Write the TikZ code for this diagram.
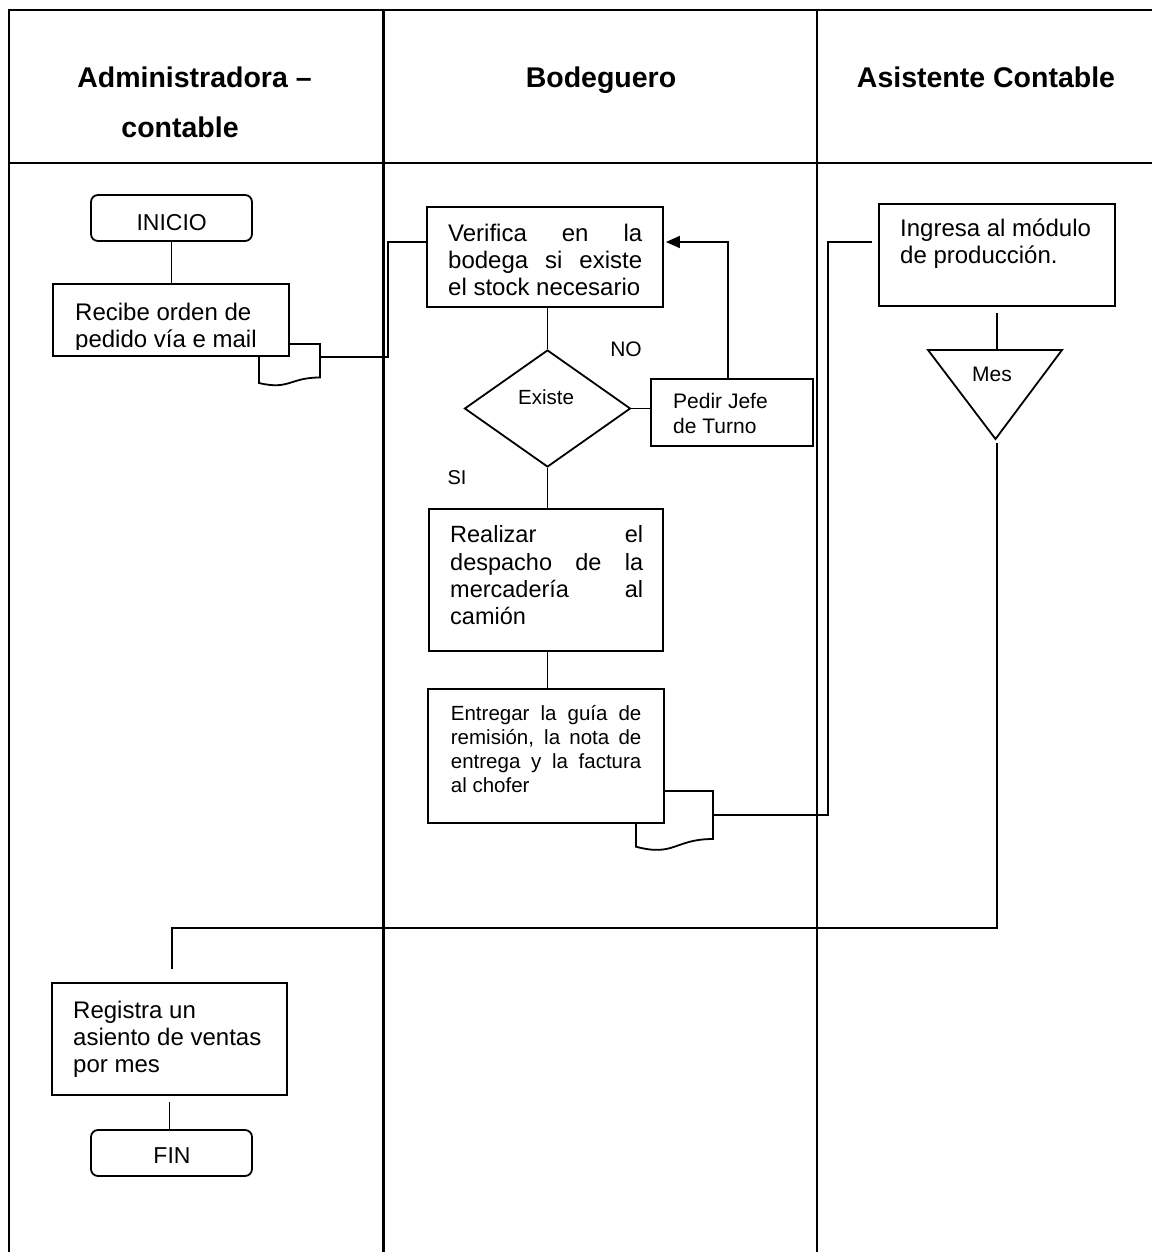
\documentclass[tikz,border=0pt]{standalone}
\usepackage{fontspec}
\setmainfont{Liberation Sans}
\usetikzlibrary{arrows.meta,shapes.geometric,calc}

% one line of a justified paragraph, stretched to the given width
\newcommand\spreadline[2]{\makebox[#1][s]{#2}}

\begin{document}
\begin{tikzpicture}[x=1pt,y=-1pt,
  frame/.style={line width=2.1pt},
  link/.style={line width=1.7pt},
  box/.style={draw,fill=white,line width=1.8pt,rectangle,inner sep=0pt},
  term/.style={box,rounded corners=7pt},
  txt/.style={inner sep=0pt,anchor=base west},
  ctxt/.style={inner sep=0pt,anchor=base},
  hdr/.style={inner sep=0pt,anchor=base,font=\fontsize{28.5}{32}\selectfont\bfseries},
  big/.style={font=\fontsize{24}{27}\selectfont},
  mid/.style={font=\fontsize{23.5}{27.4}\selectfont},
  small/.style={font=\fontsize{20.5}{24}\selectfont},
  label/.style={font=\fontsize{21}{25}\selectfont},
  doc/.style={draw,fill=white,line width=1.8pt}]

\useasboundingbox (0,0) rectangle (1152,1252);

% ---- swimlane table ----
\draw[frame] (1152,10) -- (9,10) -- (9,1252);
\draw[frame] (9,163) -- (1152,163);
\draw[frame] (383.5,10) -- (383.5,1252);
\draw[frame] (817,10) -- (817,1252);

\node[hdr] (h1a) at (194.5,88) {Administradora –};
\node[hdr] (h1b) at (180,137.5) {contable};
\node[hdr] (h2) at (601,88) {Bodeguero};
\node[hdr] (h3) at (986,88) {Asistente Contable};

% ---- document symbols (behind their boxes) ----
\draw[doc] (259,344) -- (320,344) -- (320,377.5)
  .. controls (289.5,377.5) and (289.5,390.3) .. (259,383) -- cycle;
\coordinate (d1r) at (320,357);
\draw[doc] (636,791) -- (713,791) -- (713,839)
  .. controls (674.5,839) and (674.5,857) .. (636,846.7) -- cycle;
\coordinate (d2r) at (713,815);

% ---- process boxes ----
\node[term, minimum width=161pt, minimum height=46pt] (inicio) at (171.5,218) {};
\node[box, minimum width=236pt, minimum height=72pt] (recibe) at (171,320) {};
\node[box, minimum width=236pt, minimum height=100pt] (verifica) at (545,257) {};
\node[draw,fill=white,line width=1.8pt,shape=diamond,inner sep=0pt,
      minimum width=166pt, minimum height=117pt] (existe) at (547.5,408.5) {};
\node[box, minimum width=162pt, minimum height=67pt] (pedir) at (732,412.5) {};
\node[box, minimum width=234pt, minimum height=142pt] (realizar) at (546,580) {};
\node[box, minimum width=236pt, minimum height=134pt] (entregar) at (546,756) {};
\node[box, minimum width=236pt, minimum height=102pt] (ingresa) at (997,255) {};
\node[box, minimum width=235pt, minimum height=112pt] (registra) at (169.5,1039) {};
\node[term, minimum width=161pt, minimum height=46pt] (fin) at (171.5,1153) {};

% merge (month) triangle
\draw[line width=1.8pt,fill=white] (928,350) -- (1062,350) -- (995.5,439) -- cycle;
\coordinate (mesIn) at (997,350);
\coordinate (mesOut) at (997,443);
\coordinate (elbow) at (172,928);
\coordinate (regIn) at (172,969);

% ---- connectors ----
\draw[link] (inicio.south) -- (inicio.south |- recibe.north);
\draw[link] (d1r) -- ++(68,0) |- ([yshift=15pt]verifica.west);
\draw[link] (existe.north) -- (existe.north |- verifica.south);
\draw[link] (existe.east) -- (existe.east -| pedir.west);
\draw[link,-{Triangle[length=14pt,width=12pt]}]
  ([xshift=-4pt]pedir.north) |- ([yshift=15pt,xshift=2pt]verifica.east);
\draw[link] (existe.south) -- (existe.south |- realizar.north);
\draw[link] (realizar.south -| existe.south) -- (existe.south |- entregar.north);
\draw[link,shorten >=6pt] (d2r) -- (828,815) |- ([yshift=13pt]ingresa.west);
\draw[link,shorten <=6pt] (ingresa.south) -- (mesIn);
\draw[link] (mesOut) |- (elbow) -- (regIn);
\draw[link,shorten <=6pt] (registra.south) -- (registra.south |- fin.north);

% ---- texts ----
\node[ctxt,font=\fontsize{23}{27}\selectfont] (tinicio) at (171.7,230.7) {INICIO};
\begin{scope}
  \clip (53,284) rectangle (289,349.5);
  \node[txt,big] (trecibe) at (75,320)
    {\parbox[t]{205pt}{Recibe orden de\\pedido vía e mail}};
\end{scope}
\node[txt,big] (tverifica) at (448,241.5)
  {\parbox[t]{194pt}{\spreadline{194pt}{Verifica en la}\\
   \spreadline{194pt}{bodega si existe}\\el stock necesario}};
\node[ctxt,small] (texiste) at (546,404) {Existe};
\node[ctxt,label] (tno) at (626,356.7) {NO};
\node[txt,label] (tpedir) at (673,408)
  {\parbox[t]{130pt}{Pedir Jefe\\de Turno}};
\node[ctxt,font=\fontsize{20}{24}\selectfont] (tsi) at (457,484) {SI};
\node[txt,mid] (trealizar) at (450,542.7)
  {\parbox[t]{193pt}{\spreadline{193pt}{Realizar el}\\
   \spreadline{193pt}{despacho de la}\\
   \spreadline{193pt}{mercadería al}\\camión}};
\node[txt,small] (tentregar) at (450.7,720.7)
  {\parbox[t]{190.5pt}{\spreadline{190.5pt}{Entregar la guía de}\\
   \spreadline{190.5pt}{remisión, la nota de}\\
   \spreadline{190.5pt}{entrega y la factura}\\al chofer}};
\node[txt,big] (tingresa) at (900,236.7)
  {\parbox[t]{210pt}{Ingresa al módulo\\de producción.}};
\node[ctxt,label] (tmes) at (992,381.7) {Mes};
\node[txt,big] (tregistra) at (73,1018)
  {\parbox[t]{210pt}{Registra un\\asiento de ventas\\por mes}};
\node[ctxt,font=\fontsize{23}{27}\selectfont] (tfin) at (172,1163.3) {FIN};

\end{tikzpicture}
\end{document}
